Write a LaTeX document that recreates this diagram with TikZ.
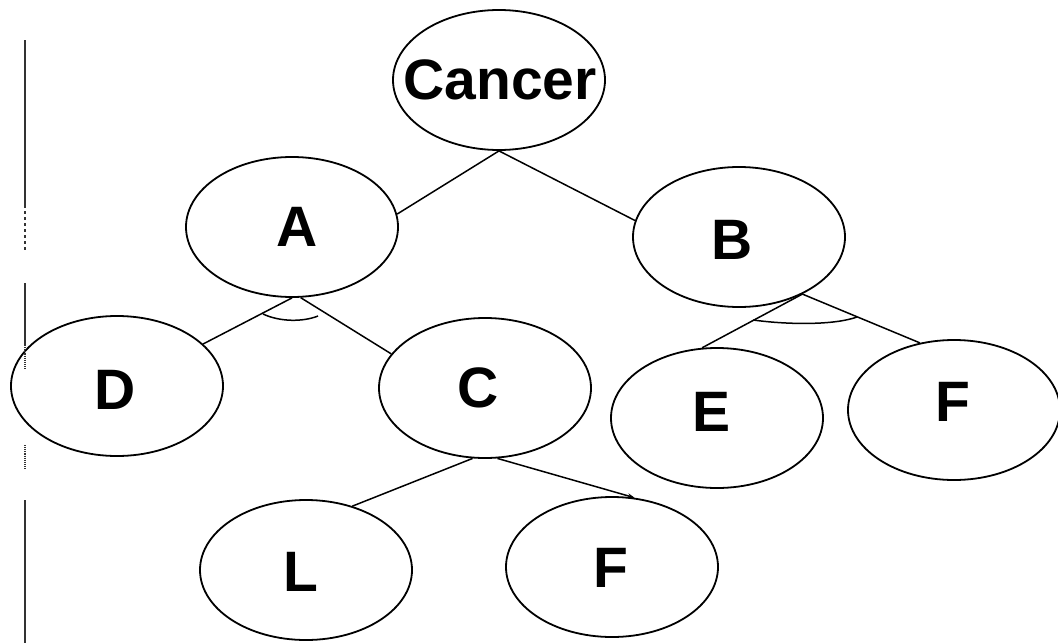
\documentclass[tikz,border=0pt]{standalone}
\usepackage{fontspec}
\setmainfont{Liberation Sans}
\usetikzlibrary{shapes.geometric,arrows.meta}
\begin{document}
\begin{tikzpicture}[x=1pt,y=-1pt,
  bubble/.style={draw, ellipse, line width=1.8pt, minimum width=212pt, minimum height=140pt, inner sep=0pt},
  lbl/.style={font=\fontsize{57}{60}\selectfont\bfseries, inner sep=0pt},
  edge/.style={line width=1.5pt},
  andarc/.style={line width=1.5pt},
  scanmark/.style={line width=1.1pt, black!80}]
\useasboundingbox[fill=white] (0,0) rectangle (1058,643);

% goal tree ellipses
\node[bubble] (cancer) at (499,80) {};
\node[bubble] (A)  at (292,227) {};
\node[bubble] (B)  at (739,237) {};
\node[bubble] (D)  at (117,386) {};
\node[bubble] (C)  at (485,388) {};
\node[bubble] (E)  at (717,418) {};
\node[bubble] (F)  at (954,410) {};
\node[bubble] (L)  at (306,570) {};
\node[bubble] (F2) at (612,567) {};

% labels
\node[lbl] (tcancer) at (500,80) {Cancer};
\node[lbl] (tA)  at (297,227) {A};
\node[lbl] (tB)  at (732,240) {B};
\node[lbl] (tD)  at (115,390) {D};
\node[lbl] (tC)  at (478,388) {C};
\node[lbl] (tE)  at (712,412) {E};
\node[lbl] (tF)  at (953,402) {F};
\node[lbl] (tL)  at (301,572) {L};
\node[lbl] (tF2) at (611,568) {F};

% connectors
\draw[edge] (cancer.south) -- (A.7);
\draw[edge] (cancer.south) -- (B.171);
\draw[edge] (A.south) -- (D.26);
\draw[edge] (A.-83) -- (C.160);
\draw[edge] (B.-42) -- (E.102);
\draw[edge] (B.-42) -- (F.117);
\draw[edge] (C.-100) -- (L.54);
\draw[edge, -{Stealth[length=7pt,width=5pt]}] (C.-80) -- (F2.72);

% AND arcs
\draw[andarc] (263,314) .. controls (280,322) and (303,322) .. (318,316);
\draw[andarc] (753,320) .. controls (790,325) and (835,325) .. (857,317);

% page-edge marks along the left side
\draw[scanmark] (25,40) -- (25,205);
\draw[scanmark, dashed] (25,205) -- (25,250);
\draw[scanmark] (25,283) -- (25,345);
\draw[scanmark, densely dotted] (25,345) -- (25,370);
\draw[scanmark, densely dotted] (25,445) -- (25,470);
\draw[scanmark] (25,500) -- (25,643);
\end{tikzpicture}
\end{document}
